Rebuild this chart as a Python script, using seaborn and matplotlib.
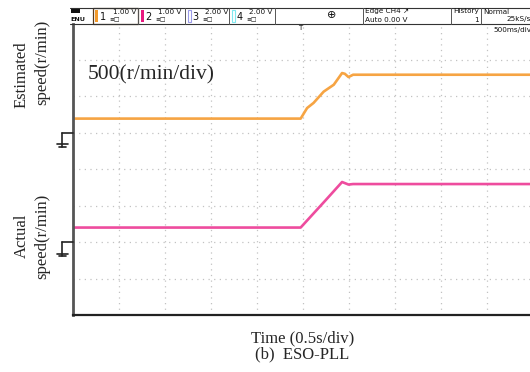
import matplotlib
matplotlib.use("Agg")
import matplotlib.pyplot as plt
import seaborn as sns
import pandas as pd
from matplotlib.patches import Rectangle
from matplotlib.lines import Line2D

# ---- trace data (time in s, speed in r/min) ----
time_est = [0.0, 2.48, 2.55, 2.62, 2.73, 2.84, 2.93, 2.96, 3.00, 3.05, 5.0]
speed_est = [195, 195, 340, 410, 565, 660, 820, 810, 765, 797, 797]

time_act = [0.0, 2.48, 2.60, 2.75, 2.93, 2.97, 3.00, 3.05, 5.0]
speed_act = [200, 200, 366, 573, 825, 805, 790, 797, 797]

channels = ["Estimated", "Actual"]
ground_div = {"Estimated": 5, "Actual": 2}   # ground reference (divisions from bottom)
speed_per_div = 500                            # r/min per division
time_per_div = 0.5                             # s per division
colors = {"Estimated": "#F6A443", "Actual": "#EE4C9E"}

W, H = 530, 372
sns.set_style("white")
plt.rcParams["font.family"] = ["Liberation Serif", "DejaVu Serif"]

fig = plt.figure(figsize=(W / 100, H / 100), dpi=100)

# plot area in pixel units (left, top, right, bottom)
L, T, R, B = 72.5, 23.5, 532.5, 315.0
ax = fig.add_axes([L / W, 1 - B / H, (R - L) / W, (B - T) / H])

df = pd.concat([
    pd.DataFrame({"time": time_est, "speed": speed_est, "channel": "Estimated"}),
    pd.DataFrame({"time": time_act, "speed": speed_act, "channel": "Actual"}),
])
df["pos"] = df["speed"] / speed_per_div + df["channel"].map(ground_div)

sns.lineplot(data=df, x="time", y="pos", hue="channel", palette=colors,
             estimator=None, sort=False, lw=1.9, legend=False, ax=ax)

ax.set_xlim(0, 10 * time_per_div)
ax.set_ylim(0, 8)
ax.set_xticks([i * time_per_div for i in range(1, 10)])
ax.set_yticks(range(1, 8))
ax.grid(True, color="#c2c2c2", linestyle=(0, (1, 3.5)), linewidth=0.9)
ax.tick_params(length=0, labelbottom=False, labelleft=False)
ax.set_xlabel("")
ax.set_ylabel("")
for s in ("top", "right"):
    ax.spines[s].set_visible(False)
ax.spines["left"].set_color("#555555")
ax.spines["left"].set_linewidth(2.0)
ax.spines["bottom"].set_color("#222222")
ax.spines["bottom"].set_linewidth(1.6)


def px(x, y):
    return x / W, 1 - y / H


def pline(xs, ys, **kw):
    fig.add_artist(Line2D([x / W for x in xs], [1 - y / H for y in ys],
                          transform=fig.transFigure, **kw))


def prect(x0, y0, x1, y1, **kw):
    fig.add_artist(Rectangle(px(x0, y1), (x1 - x0) / W, (y1 - y0) / H,
                             transform=fig.transFigure, **kw))


def ptext(x, y, s, **kw):
    fig.text(*px(x, y), s, **kw)


# ---- ground markers on the left edge ----
for ch in channels:
    y0 = B - ground_div[ch] * (B - T) / 8
    pline([61.5, 73], [y0, y0], color="#222222", lw=1.2)
    pline([61.5, 61.5], [y0, y0 + 14], color="#222222", lw=1.2)
    pline([57, 68], [y0 + 11.5, y0 + 11.5], color="#222222", lw=1.2)
    pline([59, 66], [y0 + 14, y0 + 14], color="#222222", lw=1.2)

# ---- instrument header bar ----
hdr = dict(family="DejaVu Sans", fontsize=5.2, color="#111111")
pline([70, 530], [7.5, 7.5], color="#333333", lw=0.8)
pline([70, 530], [23.5, 23.5], color="#333333", lw=0.8)
prect(71, 8, 80, 13, facecolor="#111111", edgecolor="none")
ptext(70.5, 19.5, "ENU", va="center", ha="left", **{**hdr, "fontsize": 4.6, "weight": "bold"})
for x in (138, 185, 229, 275, 363, 451, 481):
    pline([x, x], [7.5, 23.5], color="#555555", lw=0.7)
prect(92.7, 8, 138, 23.5, facecolor="none", edgecolor="#5a3a1a", lw=0.9)

boxes = [
    (92.7, "1", "1.00 V", "#F39A2B", True),
    (138, "2", "1.00 V", "#E8197F", True),
    (185, "3", "2.00 V", "#9a9ae8", False),
    (229, "4", "2.00 V", "#7fe8ef", False),
]
for x0, num, volt, col, filled in boxes:
    if filled:
        prect(x0 + 2.5, 10, x0 + 5.5, 22, facecolor=col, edgecolor="none")
    else:
        prect(x0 + 2.5, 10, x0 + 5.5, 22, facecolor="none", edgecolor=col, lw=0.8)
    ptext(x0 + 10.5, 16.5, num, va="center", ha="center", **{**hdr, "fontsize": 7})
    ptext(x0 + 43.5, 11.5, volt, va="center", ha="right", **hdr)
    ptext(x0 + 17, 19.5, "\u2261\u25a1", va="center", ha="left", **{**hdr, "fontsize": 4.2})

# zoom icon
ptext(331.5, 15.5, "\u2295", va="center", ha="center", **{**hdr, "fontsize": 8})
ptext(365, 11.5, "Edge CH4 \u2197", va="center", ha="left", **hdr)
ptext(365, 19.5, "Auto 0.00 V", va="center", ha="left", **hdr)
ptext(453, 11.5, "History", va="center", ha="left", **hdr)
ptext(479, 19.5, "1", va="center", ha="right", **hdr)
ptext(483, 11.5, "Normal", va="center", ha="left", **hdr)
ptext(531, 19.5, "25kS/s", va="center", ha="right", **hdr)
ptext(531, 30, "500ms/div", va="center", ha="right", **hdr)
ptext(300, 28.5, "T", va="center", ha="center", **{**hdr, "fontsize": 5})

# ---- labels ----
ptext(151, 75, "500(r/min/div)", ha="center", va="center", fontsize=15.5)
ptext(22, 75, "Estimated", rotation=90, ha="center", va="center", fontsize=12)
ptext(42, 62, "speed(r/min)", rotation=90, ha="center", va="center", fontsize=12)
ptext(22, 236, "Actual", rotation=90, ha="center", va="center", fontsize=12)
ptext(42, 236, "speed(r/min)", rotation=90, ha="center", va="center", fontsize=12)
ptext(303, 338, "Time (0.5s/div)", ha="center", va="center", fontsize=12)
ptext(302, 354, "(b)  ESO-PLL", ha="center", va="center", fontsize=12)

fig.savefig("out.png", dpi=100)
